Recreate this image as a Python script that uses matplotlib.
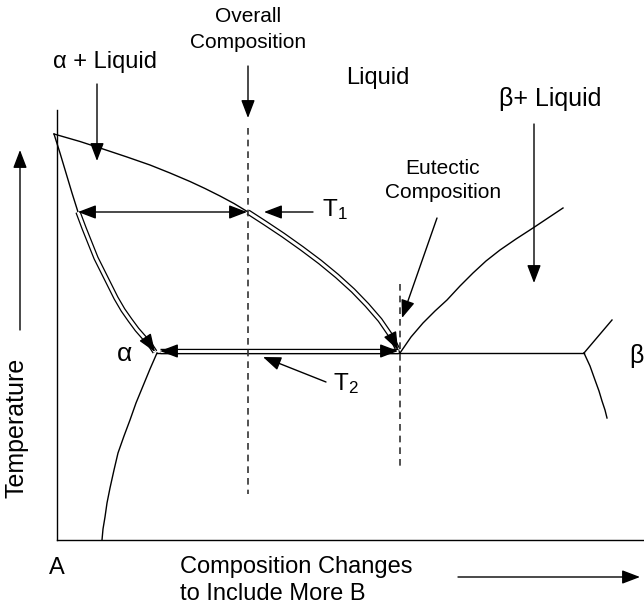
import numpy as np
import matplotlib.pyplot as plt

plt.rcParams['font.family'] = ['Liberation Sans', 'DejaVu Sans']
plt.rcParams['mathtext.default'] = 'regular'

# phase boundaries, picture pixels (x to the right, y down)
liq_a_x = [54, 80, 103, 127, 150, 170, 190, 205, 220, 234, 248,
           265, 283, 302, 320, 337, 353, 367, 380, 391, 400]
liq_a_y = [134, 141.5, 149, 157, 165, 173, 181.5, 188.5, 196, 203.5, 212,
           223, 235, 248.5, 262, 276, 290.5, 305, 320, 336, 353]
sol_a_x = [54, 60, 66, 72, 78, 84, 90, 96, 103, 110, 116, 123, 130, 137,
           144, 150, 157]
sol_a_y = [134, 153, 173, 193, 212, 228, 243, 258, 272, 286, 298, 310, 320,
           329.5, 337.5, 344.5, 352]
solv_a_x = [157, 150, 143, 136, 130, 124, 118, 114, 110, 107, 105, 103, 102]
solv_a_y = [353, 369, 386, 403, 420, 436, 453, 470, 488, 503, 517, 529, 540]
liq_b_x = [400, 411, 423, 435, 447, 460, 473, 486, 500, 516, 533, 548, 563]
liq_b_y = [353, 337, 323, 311, 300, 286, 273, 261, 250, 239, 228, 218, 208]
sol_b_x = [584, 612]
sol_b_y = [353, 320]
solv_b_x = [584, 590, 595, 599, 602, 605, 607]
solv_b_y = [353, 366, 380, 391, 401, 410, 418]

eutectic_T = 353
alpha_edge = 157
eutectic_x = 400
beta_edge = 584
overall_x = 248
T1 = 212

fig = plt.figure(figsize=(6.44, 6.07), dpi=100)
ax = fig.add_axes([0, 0, 1, 1])
ax.set_xlim(0, 644)
ax.set_ylim(607, 0)
ax.axis('off')

lw = 1.0
hs = 'head_length=1.1,head_width=0.42'
head = dict(arrowstyle='-|>,' + hs, color='k',
            lw=lw, shrinkA=0, shrinkB=0, mutation_scale=10)


def arrow(x0, y0, x1, y1, **kw):
    props = dict(head)
    props.update(kw)
    ax.annotate('', xy=(x1, y1), xytext=(x0, y0), arrowprops=props)


def hollow(xs, ys, end=True):
    ax.plot(xs, ys, color='k', lw=3.9, solid_capstyle='butt')
    ax.plot(xs, ys, color='w', lw=2.1, solid_capstyle='butt')
    if end:
        d = np.array([xs[-1] - xs[-2], ys[-1] - ys[-2]], float)
        d /= np.hypot(*d)
        arrow(xs[-1] - 16 * d[0], ys[-1] - 16 * d[1], xs[-1], ys[-1])


# axes of the diagram
ax.plot([57, 57], [110, 540], color='k', lw=lw)
ax.plot([57, 644], [540, 540], color='k', lw=lw)

# boundaries
ax.plot(liq_a_x, liq_a_y, color='k', lw=lw)
ax.plot(sol_a_x[:5], sol_a_y[:5], color='k', lw=lw)
ax.plot(solv_a_x, solv_a_y, color='k', lw=lw)
ax.plot(liq_b_x, liq_b_y, color='k', lw=lw)
ax.plot(sol_b_x, sol_b_y, color='k', lw=lw)
ax.plot(solv_b_x, solv_b_y, color='k', lw=lw)
ax.plot([alpha_edge, beta_edge], [eutectic_T, eutectic_T], color='k', lw=lw)

# cooling paths (double lines)
hollow(sol_a_x[4:-1] + [alpha_edge - 2], sol_a_y[4:-1] + [eutectic_T - 1])
hollow(liq_a_x[10:-1] + [eutectic_x - 2], liq_a_y[10:-1] + [eutectic_T - 3])
hollow([alpha_edge + 3, eutectic_x - 2], [eutectic_T - 2, eutectic_T - 2])
arrow(alpha_edge + 19, eutectic_T - 2, alpha_edge + 3, eutectic_T - 2)

# dashed composition lines
ax.plot([overall_x, overall_x], [128, 494], color='#333333', lw=1.2,
        dashes=(4, 3))
ax.plot([eutectic_x, eutectic_x], [284, 466], color='#333333', lw=1.2,
        dashes=(4, 3))

# tie line at T1
arrow(78, T1, overall_x - 1, T1, arrowstyle='<|-|>,' + hs)
arrow(313, T1, 264, T1)

# pointer arrows
arrow(97, 84, 97, 161)
arrow(overall_x, 66, overall_x, 118)
arrow(534, 124, 534, 283)
arrow(437, 218, 402, 318)
arrow(326, 382, 263, 357)
arrow(20, 330, 20, 150)
arrow(458, 577, 640, 577)

# labels
ax.text(overall_x, 17, 'Overall', ha='center', va='center', fontsize=15)
ax.text(overall_x, 43, 'Composition', ha='center', va='center', fontsize=15)
ax.text(105, 62, 'α + Liquid', ha='center', va='center', fontsize=17)
ax.text(378, 78, 'Liquid', ha='center', va='center', fontsize=17)
ax.text(550, 99, 'β+ Liquid', ha='center', va='center', fontsize=18)
ax.text(443, 168, 'Eutectic', ha='center', va='center', fontsize=15)
ax.text(443, 193, 'Composition', ha='center', va='center', fontsize=15)
ax.text(322, 210, '$T_1$', ha='left', va='center', fontsize=17.5)
ax.text(333, 384, '$T_2$', ha='left', va='center', fontsize=17.5)
ax.text(125, 354, 'α', ha='center', va='center', fontsize=19)
ax.text(629, 356, 'β', ha='left', va='center', fontsize=18)
ax.text(57, 568, 'A', ha='center', va='center', fontsize=17)
ax.text(180, 567, 'Composition Changes', ha='left', va='center', fontsize=17)
ax.text(180, 594, 'to Include More B', ha='left', va='center', fontsize=17)
ax.text(17, 428, 'Temperature', ha='center', va='center', rotation=90,
        fontsize=18)

fig.savefig('out.png', dpi=100)
